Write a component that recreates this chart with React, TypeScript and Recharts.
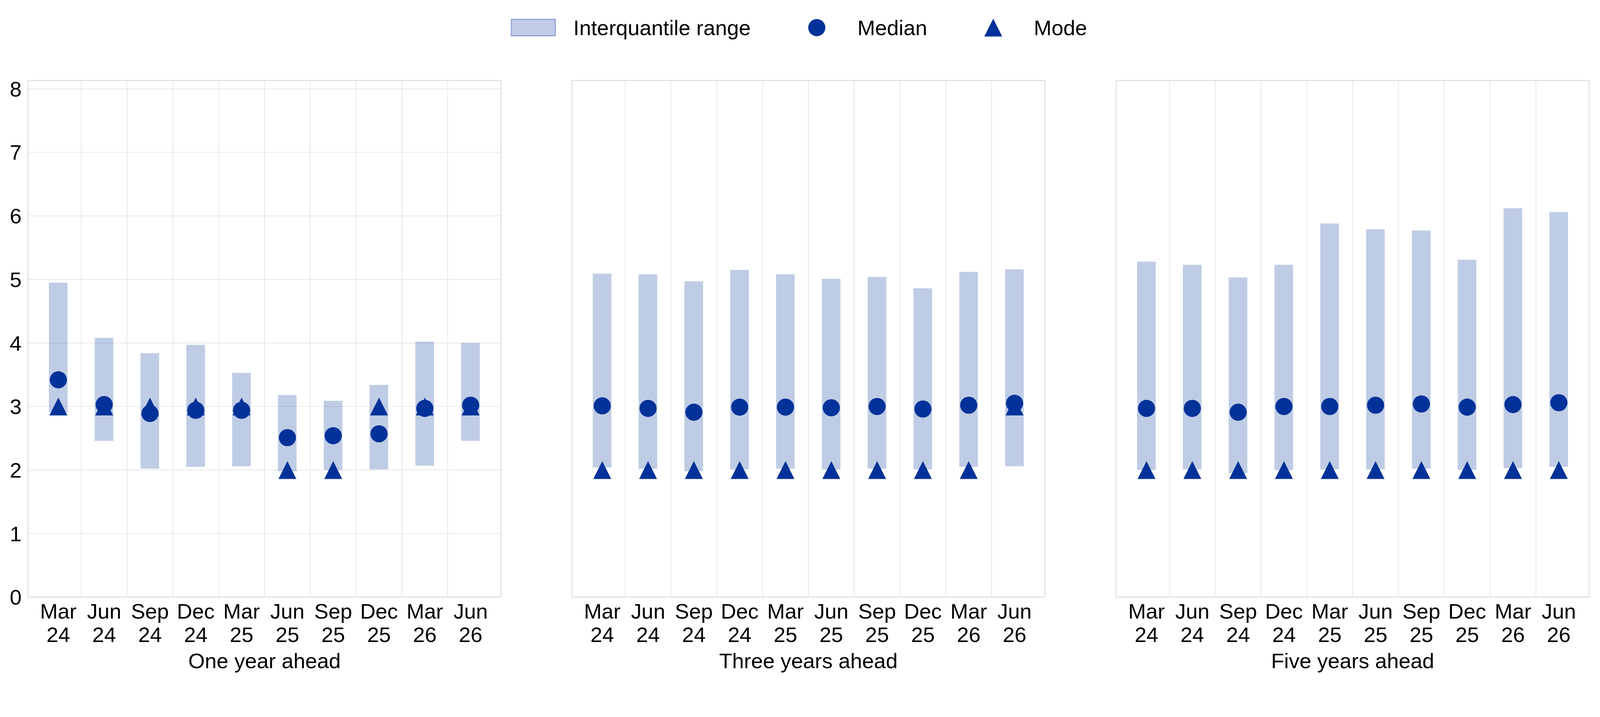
import React from "react";
import {
  ComposedChart,
  Bar,
  Scatter,
  XAxis,
  YAxis,
  CartesianGrid,
  ReferenceLine,
  Label,
} from "recharts";

const categories = ["Mar 24", "Jun 24", "Sep 24", "Dec 24", "Mar 25", "Jun 25", "Sep 25", "Dec 25", "Mar 26", "Jun 26"];
const yTicks = [0, 1, 2, 3, 4, 5, 6, 7, 8];

// one year ahead
const oneLow = [2.91, 2.46, 2.02, 2.05, 2.06, 1.98, 2.0, 2.01, 2.07, 2.46];
const oneHigh = [4.95, 4.08, 3.84, 3.97, 3.53, 3.18, 3.09, 3.34, 4.02, 4.0];
const oneMedian = [3.42, 3.03, 2.89, 2.94, 2.94, 2.51, 2.54, 2.57, 2.97, 3.02];
const oneMode = [3, 3, 3, 3, 3, 2, 2, 3, 3, 3];

// three years ahead
const threeLow = [2.04, 2.02, 1.98, 2.01, 2.02, 2.01, 2.02, 2.01, 2.05, 2.06];
const threeHigh = [5.09, 5.08, 4.97, 5.15, 5.08, 5.01, 5.04, 4.86, 5.12, 5.16];
const threeMedian = [3.01, 2.97, 2.91, 2.99, 2.99, 2.98, 3.0, 2.96, 3.02, 3.05];
const threeMode = [2, 2, 2, 2, 2, 2, 2, 2, 2, 3];

// five years ahead
const fiveLow = [2.0, 2.01, 1.95, 2.0, 2.01, 2.01, 2.02, 2.0, 2.03, 2.05];
const fiveHigh = [5.28, 5.23, 5.03, 5.23, 5.88, 5.79, 5.77, 5.31, 6.12, 6.06];
const fiveMedian = [2.97, 2.97, 2.91, 3.0, 3.0, 3.02, 3.04, 2.99, 3.03, 3.06];
const fiveMode = [2, 2, 2, 2, 2, 2, 2, 2, 2, 2];

const BLUE = "#003299";
const GRID = "#e0e0e0";
const FRAME = "#d6d6d6";
const FONT = "'Liberation Sans', Arial, sans-serif";
const FS = 57;
const PAGE_W = 4289;
const PAGE_H = 1836;

const build = (low: number[], high: number[], median: number[], mode: number[]) =>
  categories.map((cat, i) => ({ cat, range: [low[i], high[i]], median: median[i], mode: mode[i] }));

const CatTick = (props: any) => {
  const { x, y, payload } = props;
  const [m, yr] = String(payload.value).split(" ");
  return (
    <text x={x} y={y} textAnchor="middle" fontSize={FS} fill="#000">
      <tspan x={x} dy={58}>{m}</tspan>
      <tspan x={x} dy={62}>{yr}</tspan>
    </text>
  );
};

const Circle = (props: any) => <circle cx={props.cx} cy={props.cy} r={23} fill={BLUE} />;
const Triangle = (props: any) => {
  const { cx, cy } = props;
  return <polygon points={`${cx},${cy - 24} ${cx - 24},${cy + 24} ${cx + 24},${cy + 24}`} fill={BLUE} />;
};

function Panel({ data, title, left, showY }: { data: any[]; title: string; left: number; showY: boolean }) {
  const width = showY ? 1363 : 1308;
  return (
    <div style={{ position: "absolute", left, top: 0 }}>
      <ComposedChart
        width={width}
        height={PAGE_H}
        data={data}
        margin={{ top: 215, right: 19, bottom: 0, left: showY ? 15 : 19 }}
      >
        <CartesianGrid vertical={false} stroke={GRID} strokeWidth={1.5} />
        {categories.slice(0, 9).map((c) => (
          <ReferenceLine key={c} x={c} position="end" stroke={GRID} strokeWidth={1.5} />
        ))}
        <XAxis
          dataKey="cat"
          height={235}
          padding={{ left: 20, right: 20 }}
          tickLine={false}
          tickSize={0}
          tickMargin={0}
          interval={0}
          axisLine={{ stroke: FRAME, strokeWidth: 2 }}
          tick={<CatTick />}
        >
          <Label value={title} position="insideBottom" offset={44} fontSize={FS} fill="#000" />
        </XAxis>
        <XAxis
          xAxisId="top"
          orientation="top"
          dataKey="cat"
          height={1}
          tick={false}
          tickLine={false}
          axisLine={{ stroke: FRAME, strokeWidth: 2 }}
        />
        <YAxis
          domain={[0, 8.13]}
          ticks={yTicks}
          width={showY ? 60 : 1}
          tick={showY ? { fontSize: FS, fill: "#000" } : false}
          tickLine={false}
          tickSize={0}
          tickMargin={17}
          axisLine={{ stroke: FRAME, strokeWidth: 2 }}
        />
        <YAxis
          yAxisId="right"
          orientation="right"
          domain={[0, 8.13]}
          ticks={yTicks}
          width={1}
          tick={false}
          tickLine={false}
          axisLine={{ stroke: FRAME, strokeWidth: 2 }}
        />
        <Bar dataKey="range" barSize={50} fill={BLUE} fillOpacity={0.25} isAnimationActive={false} />
        <Scatter dataKey="mode" shape={<Triangle />} isAnimationActive={false} />
        <Scatter dataKey="median" shape={<Circle />} isAnimationActive={false} />
      </ComposedChart>
    </div>
  );
}

function LegendBar() {
  const text: React.CSSProperties = { fontSize: FS, lineHeight: "60px", color: "#000", whiteSpace: "nowrap" };
  return (
    <div style={{ position: "absolute", left: 1369, top: 44, height: 60, display: "flex", alignItems: "center" }}>
      <svg width={121} height={60}>
        <rect x={1.5} y={8} width={118} height={44} fill="#c0cbe6" stroke="#8fa2d5" strokeWidth={3} />
      </svg>
      <span style={{ ...text, marginLeft: 47 }}>Interquantile range</span>
      <svg width={121} height={60} style={{ marginLeft: 117 }}>
        <circle cx={60.5} cy={30} r={23} fill={BLUE} />
      </svg>
      <span style={{ ...text, marginLeft: 48 }}>Median</span>
      <svg width={121} height={60} style={{ marginLeft: 117 }}>
        <polygon points="60.5,6 36.5,54 84.5,54" fill={BLUE} />
      </svg>
      <span style={{ ...text, marginLeft: 48 }}>Mode</span>
    </div>
  );
}

export default function App() {
  // the page may be shown in a narrower viewport than the picture; fit the fixed-size layout to it
  const vw = typeof window !== "undefined" ? window.innerWidth : PAGE_W;
  const scale = vw > 0 && vw < PAGE_W ? vw / PAGE_W : 1;
  return (
    <div
      style={{
        position: "absolute",
        left: 0,
        top: 0,
        width: PAGE_W,
        height: PAGE_H,
        background: "#fff",
        fontFamily: FONT,
        transform: `scale(${scale})`,
        transformOrigin: "0 0",
      }}
    >
      <LegendBar />
      <Panel data={build(oneLow, oneHigh, oneMedian, oneMode)} title="One year ahead" left={0} showY />
      <Panel data={build(threeLow, threeHigh, threeMedian, threeMode)} title="Three years ahead" left={1513} showY={false} />
      <Panel data={build(fiveLow, fiveHigh, fiveMedian, fiveMode)} title="Five years ahead" left={2972} showY={false} />
    </div>
  );
}
